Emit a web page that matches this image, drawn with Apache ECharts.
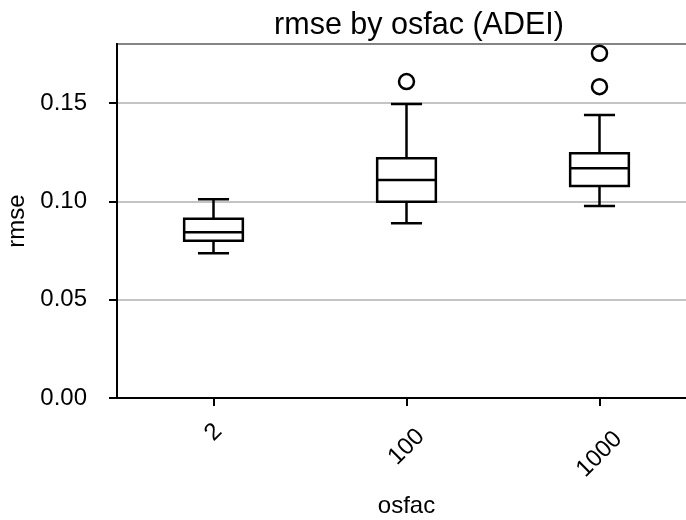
<!DOCTYPE html>
<html>
<head>
<meta charset="utf-8">
<script src="https://cdn.jsdelivr.net/npm/echarts@6/dist/echarts.min.js"></script>
<style>
  html, body { margin: 0; padding: 0; background: #fff; }
  #chart { width: 686px; height: 520px; }
</style>
</head>
<body>
<div id="chart"></div>
<script>
// rmse distribution for each oversampling factor
const categories = ['2', '100', '1000'];
const whiskerLow  = [0.0736, 0.0889, 0.0976];
const quartile1   = [0.0799, 0.0998, 0.1078];
const medians     = [0.0843, 0.1109, 0.1168];
const quartile3   = [0.0912, 0.1219, 0.1245];
const whiskerHigh = [0.1010, 0.1495, 0.1439];
const outlierCategory = ['100', '1000', '1000'];
const outlierValue    = [0.1609, 0.1753, 0.1583];

const FONT = '"Liberation Sans", Arial, sans-serif';
const INK = '#000';
const LABEL_MARGIN = 18;
const STROKE = 2.5;

// rotated tick labels sit centred under their tick; longer labels drop further
const measureCtx = document.createElement('canvas').getContext('2d');
measureCtx.font = '24px "Liberation Sans"';
const labelRich = {};
categories.forEach((c, i) => {
  const w = measureCtx.measureText(c).width;
  const drop = Math.max(0, 27 + 0.55 * w - LABEL_MARGIN);
  const pad = drop * Math.SQRT2;
  labelRich['l' + i] = {
    fontSize: 24, fontFamily: FONT, color: INK,
    padding: [pad, pad, 0, 0]
  };
});

function renderBox(params, api) {
  const idx = api.value(0);
  const lo = api.coord([idx, api.value(1)]);
  const b1 = api.coord([idx, api.value(2)]);
  const md = api.coord([idx, api.value(3)]);
  const b3 = api.coord([idx, api.value(4)]);
  const hi = api.coord([idx, api.value(5)]);
  const band = api.size([1, 0])[0];
  const half = band * 0.152;
  const cap = half * 0.53;
  const cx = lo[0];
  const style = { stroke: INK, lineWidth: STROKE, fill: null };
  return {
    type: 'group',
    children: [
      { type: 'line', shape: { x1: cx, y1: hi[1], x2: cx, y2: b3[1] }, style },
      { type: 'line', shape: { x1: cx, y1: b1[1], x2: cx, y2: lo[1] }, style },
      { type: 'line', shape: { x1: cx - cap, y1: hi[1], x2: cx + cap, y2: hi[1] }, style },
      { type: 'line', shape: { x1: cx - cap, y1: lo[1], x2: cx + cap, y2: lo[1] }, style },
      { type: 'rect', shape: { x: cx - half, y: b3[1], width: 2 * half, height: b1[1] - b3[1] }, style },
      { type: 'line', shape: { x1: cx - half, y1: md[1], x2: cx + half, y2: md[1] }, style }
    ]
  };
}

const chart = echarts.init(document.getElementById('chart'), null, { renderer: 'canvas' });
chart.setOption({
  animation: false,
  backgroundColor: '#fff',
  textStyle: { fontFamily: FONT },
  title: {
    text: 'rmse by osfac (ADEI)',
    left: 414,
    textAlign: 'center',
    top: 5,
    textStyle: { fontSize: 30.5, fontWeight: 'normal', color: INK, fontFamily: FONT }
  },
  grid: {
    left: 117, right: -10, top: 44, bottom: 122,
    outerBoundsMode: 'none',
    containLabel: false,
    show: true, borderColor: INK, borderWidth: 2, backgroundColor: 'transparent'
  },
  xAxis: {
    type: 'category',
    data: categories,
    boundaryGap: true,
    name: 'osfac',
    nameLocation: 'middle',
    nameGap: 96,
    nameTextStyle: { fontSize: 24, color: INK, fontFamily: FONT },
    axisLine: { show: true, lineStyle: { color: INK, width: 2 } },
    axisTick: { show: true, alignWithLabel: true, length: 8, lineStyle: { color: INK, width: 2 } },
    axisLabel: {
      rotate: 45,
      align: 'center',
      verticalAlign: 'middle',
      margin: LABEL_MARGIN,
      formatter: (v, i) => '{l' + i + '|' + v + '}',
      rich: labelRich
    },
    splitLine: { show: false }
  },
  yAxis: {
    type: 'value',
    min: 0,
    max: 0.18,
    interval: 0.05,
    name: 'rmse',
    nameLocation: 'middle',
    nameGap: 88,
    nameTextStyle: { fontSize: 24, color: INK, fontFamily: FONT },
    axisLine: { show: true, lineStyle: { color: INK, width: 2 } },
    axisTick: { show: true, length: 8, lineStyle: { color: INK, width: 2 } },
    axisLabel: {
      fontSize: 24, color: INK, fontFamily: FONT, margin: 30,
      showMaxLabel: false,
      formatter: v => v.toFixed(2)
    },
    splitLine: { show: true, lineStyle: { color: '#b0b0b0', width: 1.6 } }
  },
  series: [
    {
      type: 'custom',
      renderItem: renderBox,
      encode: { x: 0, y: [1, 2, 3, 4, 5] },
      data: categories.map((c, i) => [i, whiskerLow[i], quartile1[i], medians[i], quartile3[i], whiskerHigh[i]]),
      z: 3
    },
    {
      type: 'scatter',
      symbol: 'circle',
      symbolSize: 15,
      itemStyle: { color: 'rgba(0,0,0,0)', borderColor: INK, borderWidth: STROKE, opacity: 1 },
      data: outlierCategory.map((c, i) => [c, outlierValue[i]]),
      z: 4
    }
  ]
});
</script>
</body>
</html>
